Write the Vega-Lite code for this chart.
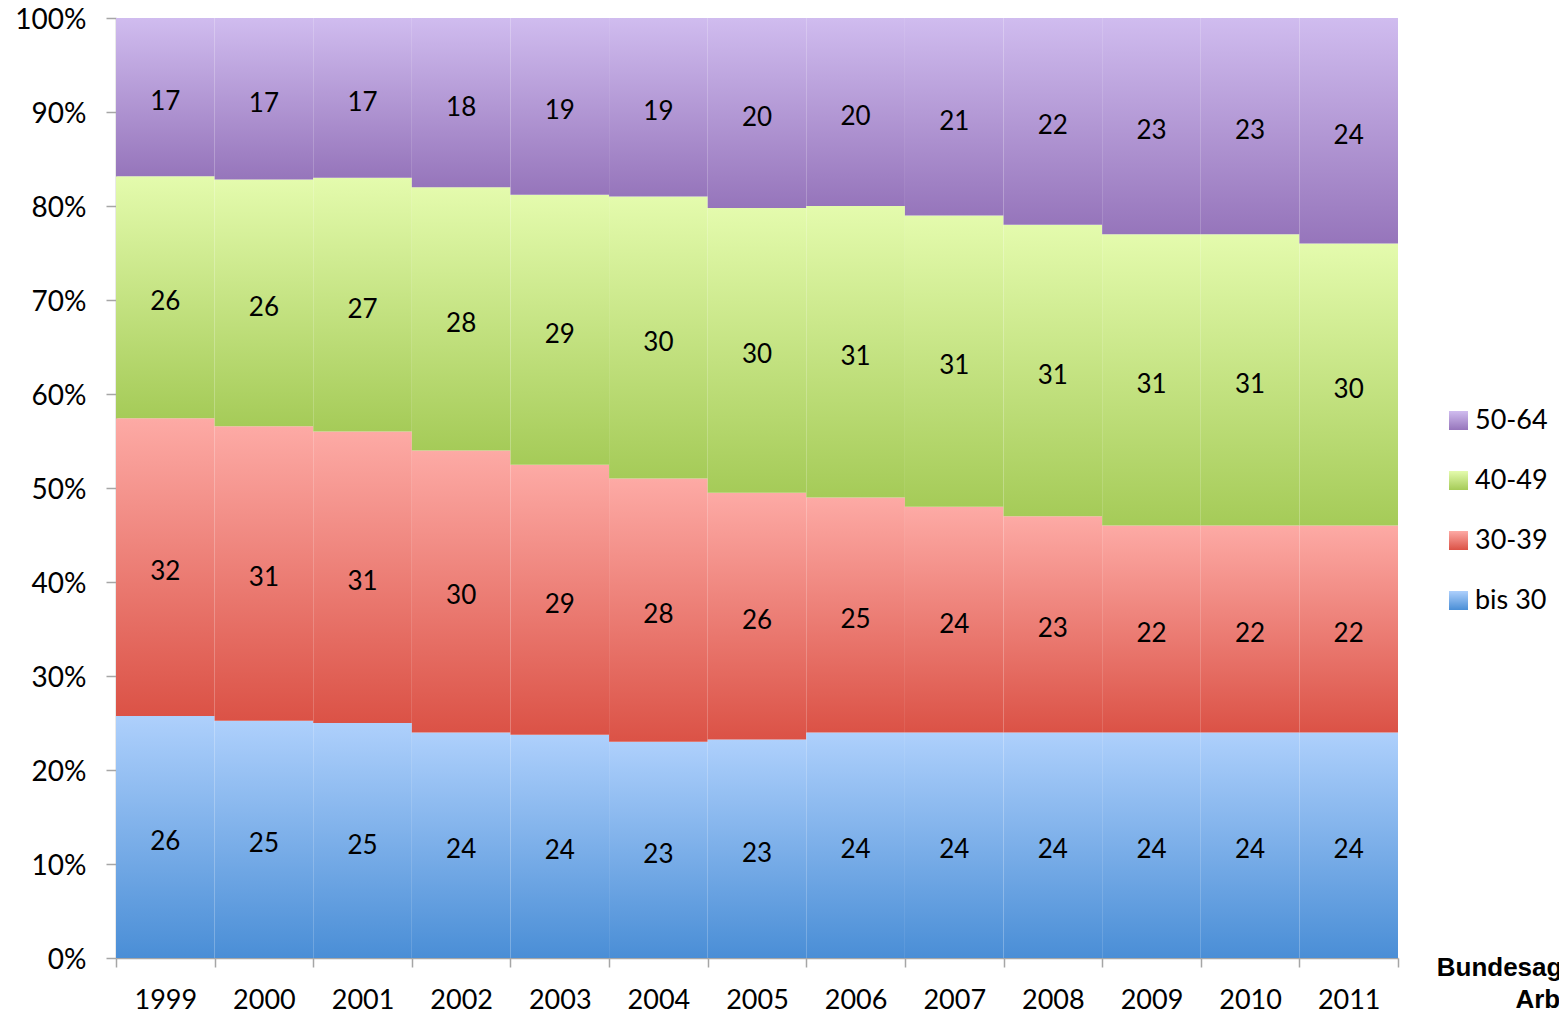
{
  "$schema": "https://vega.github.io/schema/vega-lite/v6.json",
  "width": 1282,
  "height": 940,
  "autosize": "none",
  "padding": {"left": 116, "top": 18, "right": 161, "bottom": 57},
  "background": "white",
  "config": {
    "view": {"stroke": null},
    "font": "Lato",
    "axis": {
      "domainColor": "#a6a6a6",
      "tickColor": "#a6a6a6",
      "domainWidth": 1.5,
      "tickWidth": 1.5,
      "grid": false,
      "labelColor": "black",
      "labelFont": "Lato",
      "labelFontSize": 27,
      "title": null
    }
  },
  "title": {
    "text": ["Bundesagentur für", "Arbeit"],
    "orient": "bottom",
    "anchor": "end",
    "frame": "group",
    "align": "center",
    "font": "Liberation Sans",
    "fontSize": 26,
    "fontWeight": "bold",
    "color": "black",
    "lineHeight": 32,
    "dx": 155,
    "dy": -62
  },
  "data": {
    "values": [
      {"year": "1999", "age": "bis 30", "v": 26}, {"year": "1999", "age": "30-39", "v": 32}, {"year": "1999", "age": "40-49", "v": 26}, {"year": "1999", "age": "50-64", "v": 17},
      {"year": "2000", "age": "bis 30", "v": 25}, {"year": "2000", "age": "30-39", "v": 31}, {"year": "2000", "age": "40-49", "v": 26}, {"year": "2000", "age": "50-64", "v": 17},
      {"year": "2001", "age": "bis 30", "v": 25}, {"year": "2001", "age": "30-39", "v": 31}, {"year": "2001", "age": "40-49", "v": 27}, {"year": "2001", "age": "50-64", "v": 17},
      {"year": "2002", "age": "bis 30", "v": 24}, {"year": "2002", "age": "30-39", "v": 30}, {"year": "2002", "age": "40-49", "v": 28}, {"year": "2002", "age": "50-64", "v": 18},
      {"year": "2003", "age": "bis 30", "v": 24}, {"year": "2003", "age": "30-39", "v": 29}, {"year": "2003", "age": "40-49", "v": 29}, {"year": "2003", "age": "50-64", "v": 19},
      {"year": "2004", "age": "bis 30", "v": 23}, {"year": "2004", "age": "30-39", "v": 28}, {"year": "2004", "age": "40-49", "v": 30}, {"year": "2004", "age": "50-64", "v": 19},
      {"year": "2005", "age": "bis 30", "v": 23}, {"year": "2005", "age": "30-39", "v": 26}, {"year": "2005", "age": "40-49", "v": 30}, {"year": "2005", "age": "50-64", "v": 20},
      {"year": "2006", "age": "bis 30", "v": 24}, {"year": "2006", "age": "30-39", "v": 25}, {"year": "2006", "age": "40-49", "v": 31}, {"year": "2006", "age": "50-64", "v": 20},
      {"year": "2007", "age": "bis 30", "v": 24}, {"year": "2007", "age": "30-39", "v": 24}, {"year": "2007", "age": "40-49", "v": 31}, {"year": "2007", "age": "50-64", "v": 21},
      {"year": "2008", "age": "bis 30", "v": 24}, {"year": "2008", "age": "30-39", "v": 23}, {"year": "2008", "age": "40-49", "v": 31}, {"year": "2008", "age": "50-64", "v": 22},
      {"year": "2009", "age": "bis 30", "v": 24}, {"year": "2009", "age": "30-39", "v": 22}, {"year": "2009", "age": "40-49", "v": 31}, {"year": "2009", "age": "50-64", "v": 23},
      {"year": "2010", "age": "bis 30", "v": 24}, {"year": "2010", "age": "30-39", "v": 22}, {"year": "2010", "age": "40-49", "v": 31}, {"year": "2010", "age": "50-64", "v": 23},
      {"year": "2011", "age": "bis 30", "v": 24}, {"year": "2011", "age": "30-39", "v": 22}, {"year": "2011", "age": "40-49", "v": 30}, {"year": "2011", "age": "50-64", "v": 24}
    ]
  },
  "transform": [
    {"calculate": "indexof(['bis 30', '30-39', '40-49', '50-64'], datum.age)", "as": "k"},
    {"stack": "v", "groupby": ["year"], "sort": [{"field": "k", "order": "ascending"}], "offset": "normalize", "as": ["y0", "y1"]},
    {"calculate": "(datum.y0 + datum.y1) / 2", "as": "ym"}
  ],
  "encoding": {
    "x": {
      "field": "year",
      "type": "ordinal",
      "scale": {"paddingInner": 0, "paddingOuter": 0},
      "axis": {"labelAngle": 0, "tickBand": "extent", "tickSize": 9, "labelPadding": 20}
    }
  },
  "layer": [
    {
      "mark": {"type": "bar", "strokeWidth": 0},
      "encoding": {
        "y": {
          "field": "y0",
          "type": "quantitative",
          "scale": {"domain": [0, 1], "nice": false},
          "axis": {"values": [0, 0.1, 0.2, 0.3, 0.4, 0.5, 0.6, 0.7, 0.8, 0.9, 1], "format": ".0%", "tickSize": 10, "labelPadding": 20, "labelFontSize": 28, "labelOffset": 2}
        },
        "y2": {"field": "y1"},
        "color": {
          "field": "age",
          "type": "nominal",
          "scale": {
            "domain": ["50-64", "40-49", "30-39", "bis 30"],
            "range": [
              {"expr": "{gradient: 'linear', x1: 0, y1: 0, x2: 0, y2: 1, stops: [{offset: 0, color: '#d0bcef'}, {offset: 1, color: '#9675bb'}]}"},
              {"expr": "{gradient: 'linear', x1: 0, y1: 0, x2: 0, y2: 1, stops: [{offset: 0, color: '#e4fbad'}, {offset: 1, color: '#a5cb58'}]}"},
              {"expr": "{gradient: 'linear', x1: 0, y1: 0, x2: 0, y2: 1, stops: [{offset: 0, color: '#fdaaa5'}, {offset: 1, color: '#db5246'}]}"},
              {"expr": "{gradient: 'linear', x1: 0, y1: 0, x2: 0, y2: 1, stops: [{offset: 0, color: '#aed0fc'}, {offset: 1, color: '#4a8ed6'}]}"}
            ]
          },
          "legend": {
            "title": null,
            "orient": "none",
            "legendX": 1329,
            "legendY": 389,
            "symbolType": "square",
            "symbolSize": 361,
            "symbolStrokeWidth": 0,
            "symbolOpacity": 1,
            "labelFont": "Lato",
            "labelFontSize": 27,
            "labelColor": "black",
            "labelOffset": 3,
            "rowPadding": 32
          }
        }
      }
    },
    {
      "mark": {"type": "text", "fontSize": 26, "baseline": "middle", "align": "center", "color": "black", "font": "Lato", "dy": 5},
      "encoding": {
        "y": {"field": "ym", "type": "quantitative"},
        "text": {"field": "v", "type": "quantitative"}
      }
    }
  ]
}
